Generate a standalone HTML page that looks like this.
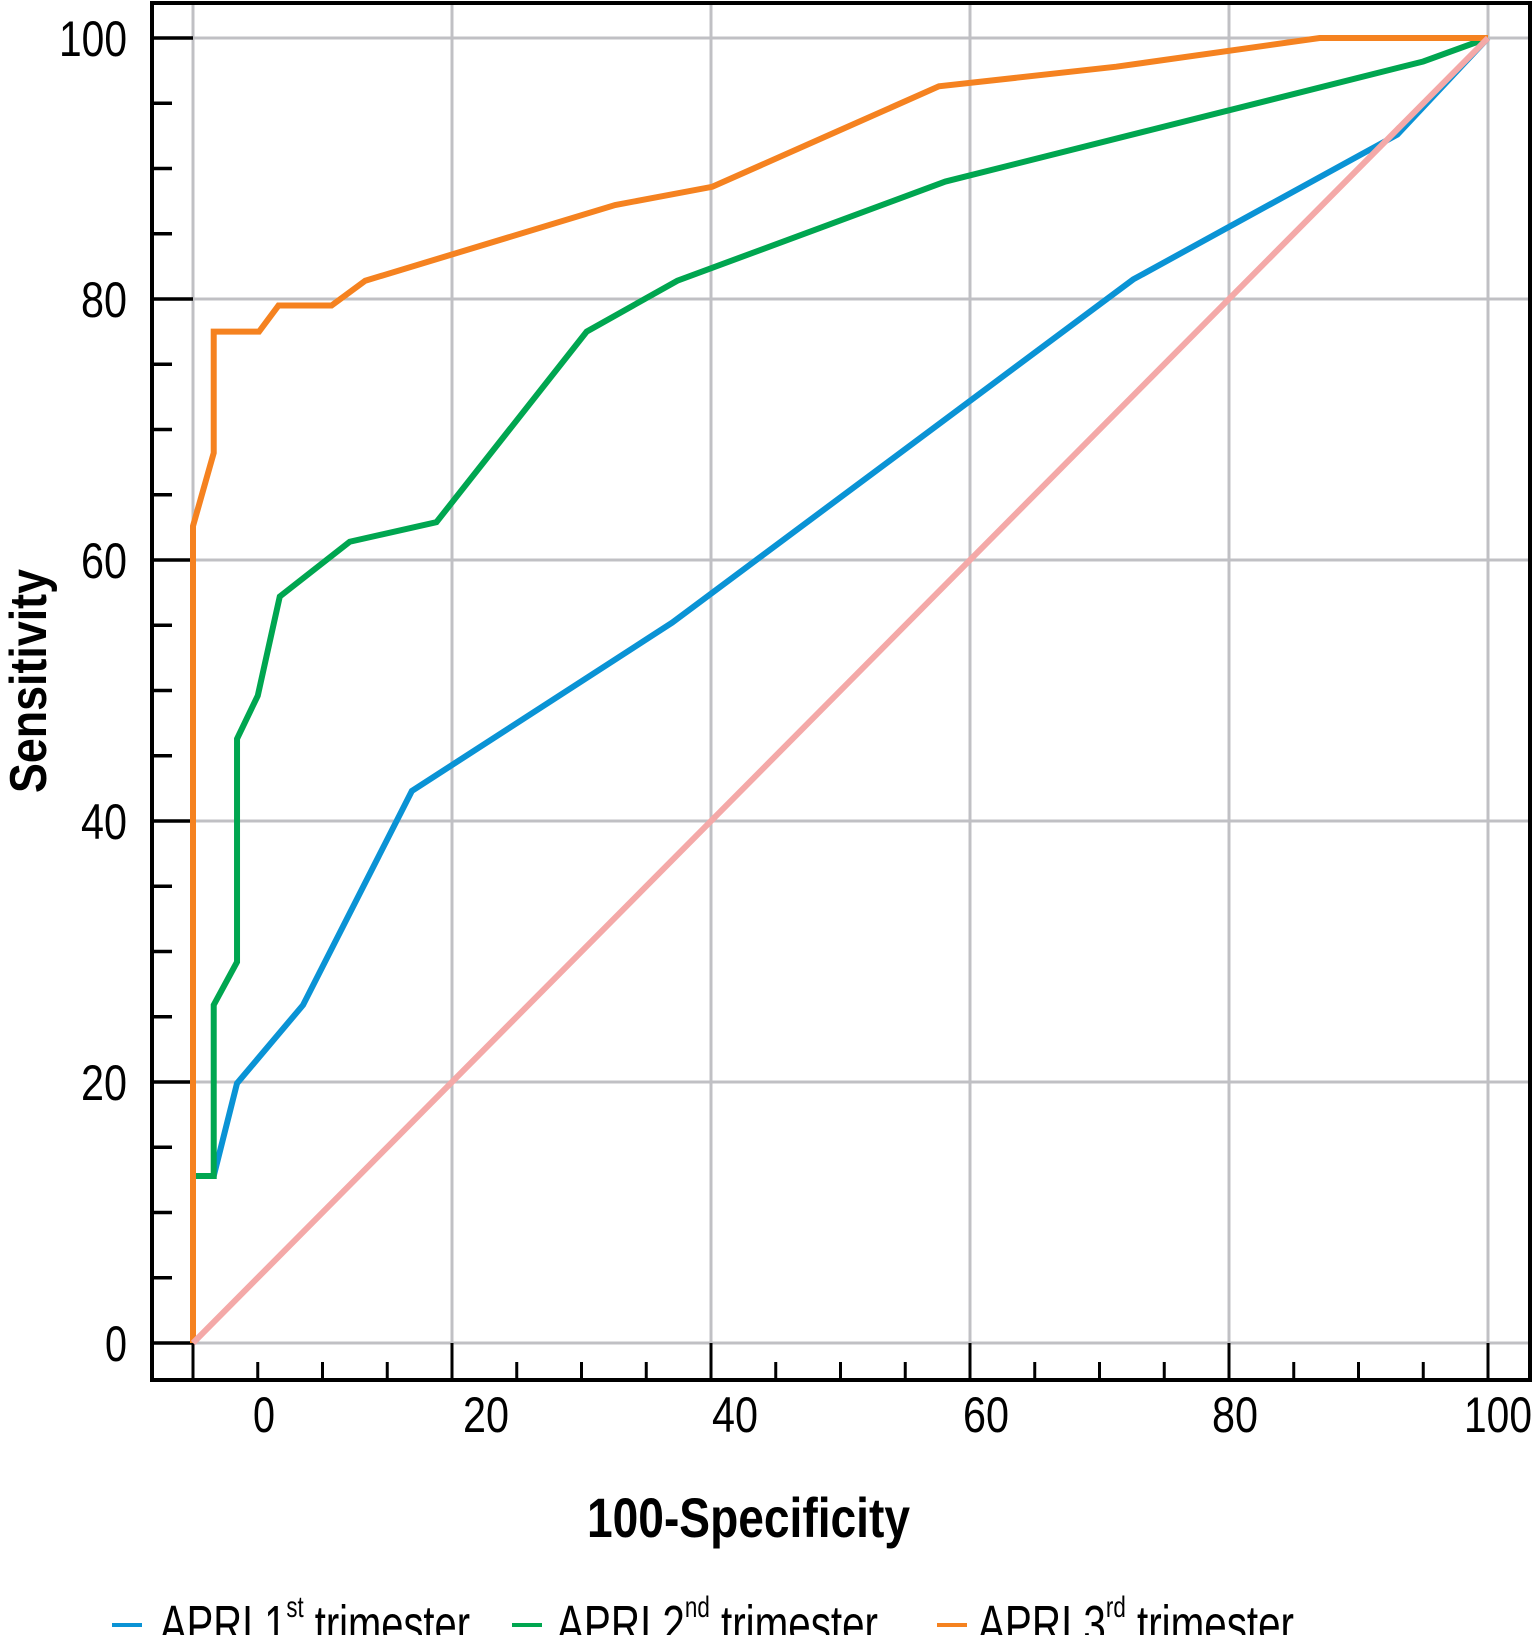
<!DOCTYPE html>
<html><head><meta charset="utf-8"><style>
html,body{margin:0;padding:0;background:#fff;}
svg{display:block;}
text{font-family:"Liberation Sans Narrow","Liberation Sans",sans-serif;}
</style></head><body>
<svg id="chart" width="1534" height="1635" viewBox="0 0 1534 1635" xmlns="http://www.w3.org/2000/svg"></svg>
<script>
const xGridValues=[0,20,40,60,80,100];
const yTickValues=[0,20,40,60,80,100];
const xTickLabels=["0","20","40","60","80","100"];
const xLabelPositions=[264,486,735,986,1235,1498];
const blueX=[0,0,1.6,3.4,8.5,16.9,37,72.6,93,100];
const blueY=[0,12.8,12.8,19.9,25.9,42.3,55.2,81.5,92.6,100];
const greenX=[0,0,1.6,1.6,3.4,3.4,5,6.7,12.1,18.8,30.4,37.4,58.1,95,100];
const greenY=[0,12.8,12.8,25.9,29.2,46.3,49.6,57.2,61.4,62.9,77.5,81.4,89,98.2,100];
const orangeX=[0,0,1.6,1.6,5.1,6.6,10.7,13.3,32.6,40.1,57.6,71.3,87,100];
const orangeY=[0,62.6,68.2,77.5,77.5,79.5,79.5,81.4,87.2,88.6,96.3,97.8,100,100];
const refX=[0,100];
const refY=[0,100];

const svg=document.getElementById('chart');
const NS='http://www.w3.org/2000/svg';
const X0=193,X1=1488,Y0=1343,Y1=38;
const L=152,R=1530,T=3,B=1380;
function sx(v){return X0+(X1-X0)*v/100;}
function sy(v){return Y0-(Y0-Y1)*v/100;}
function mk(tag,attrs){const e=document.createElementNS(NS,tag);for(const k in attrs)e.setAttribute(k,attrs[k]);svg.appendChild(e);return e;}
function labelWidth(s){return s.length===3?68:(s.length===2?46:22);}

xGridValues.forEach(v=>{
  const g=mk('line',{x1:sx(v),x2:sx(v),y1:T,y2:Y0,stroke:'#c0c0c4','stroke-width':3});
  
  
});
yTickValues.forEach(v=>{
  const g=mk('line',{x1:X0,x2:R,y1:sy(v),y2:sy(v),stroke:'#c0c0c4','stroke-width':3});
  
  
});
const fr=mk('rect',{x:L,y:T,width:R-L,height:B-T,fill:'none',stroke:'#000','stroke-width':4});


for(let v=0;v<=100;v+=5){
  const major=v%20===0;
  const t=mk('line',{x1:L,x2:major?X0:172,y1:sy(v),y2:sy(v),stroke:'#000','stroke-width':3.5});
  
  
}
yTickValues.forEach(v=>{
  const s=String(v);
  const t=mk('text',{x:127-labelWidth(s),y:sy(v)+18,'font-size':50,textLength:labelWidth(s),lengthAdjust:'spacingAndGlyphs'});
  t.textContent=s;
  
  
});
for(let v=0;v<=100;v+=5){
  const major=v%20===0;
  const t=mk('line',{x1:sx(v),x2:sx(v),y1:B,y2:major?Y0:1362,stroke:'#000','stroke-width':3});
  
  
}
xTickLabels.forEach((s,i)=>{
  const w=labelWidth(s);
  const t=mk('text',{x:xLabelPositions[i]-w/2,y:1432,'font-size':50,textLength:w,lengthAdjust:'spacingAndGlyphs'});
  t.textContent=s;
  
  
});
function series(xs,ys,color,name){
  const pts=xs.map((x,i)=>sx(x)+','+sy(ys[i])).join(' ');
  const p=mk('polyline',{points:pts,fill:'none',stroke:color,'stroke-width':6,'stroke-linejoin':'miter'});
  
  
}
series(blueX,blueY,'#0a93d5','series-apri-1st-trimester');
series(greenX,greenY,'#00a650','series-apri-2nd-trimester');
series(orangeX,orangeY,'#f58220','series-apri-3rd-trimester');
series(refX,refY,'#f4a9a8','reference-diagonal');
</script>
<svg style="position:absolute;left:0;top:0" width="1534" height="1635">
<text transform="translate(46,681) rotate(-90)" x="-112" y="0" textLength="224" lengthAdjust="spacingAndGlyphs" font-size="52" font-weight="bold" font-family="Liberation Sans Narrow, Liberation Sans, sans-serif">Sensitivity</text>
<text x="587" y="1537" textLength="323" lengthAdjust="spacingAndGlyphs" font-size="56" font-weight="bold" font-family="Liberation Sans Narrow, Liberation Sans, sans-serif">100-Specificity</text>
<g font-size="54" font-family="Liberation Sans Narrow, Liberation Sans, sans-serif">
<line x1="112" x2="142" y1="1625" y2="1625" stroke="#0a93d5" stroke-width="4"/>
<text x="160" y="1643" textLength="310" lengthAdjust="spacingAndGlyphs">APRI 1<tspan font-size="30" dy="-26">st</tspan><tspan dy="26"> trimester</tspan></text>
<line x1="512" x2="542" y1="1625" y2="1625" stroke="#00a650" stroke-width="4"/>
<text x="557" y="1643" textLength="321" lengthAdjust="spacingAndGlyphs">APRI 2<tspan font-size="30" dy="-26">nd</tspan><tspan dy="26"> trimester</tspan></text>
<line x1="937" x2="967" y1="1625" y2="1625" stroke="#f58220" stroke-width="4"/>
<text x="978" y="1643" textLength="316" lengthAdjust="spacingAndGlyphs">APRI 3<tspan font-size="30" dy="-26">rd</tspan><tspan dy="26"> trimester</tspan></text>
</g>
</svg>
</body></html>
